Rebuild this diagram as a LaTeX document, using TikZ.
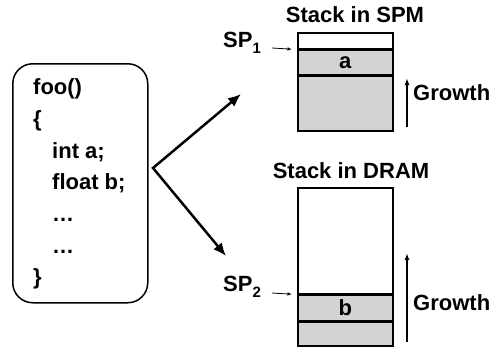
\documentclass[tikz,border=0pt]{standalone}
\usepackage{fontspec}
\setmainfont{Liberation Sans}
\usetikzlibrary{arrows.meta,positioning}
\definecolor{stackgray}{RGB}{211,211,211}
\tikzset{
  label text/.style={font=\bfseries\fontsize{22}{26}\selectfont,inner sep=0pt,anchor=base west},
  cell/.style={draw,line width=1.5pt,minimum width=95pt,inner sep=0pt,
    font=\bfseries\fontsize{22}{26}\selectfont},
  big arrow/.style={line width=2.5pt,miter limit=20,{Latex[length=13pt,width=11pt]}-{Latex[length=13pt,width=11pt]}},
  grow arrow/.style={line width=1.8pt,-{Latex[length=7pt,width=5pt]}},
  sp arrow/.style={line width=0.8pt,shorten >=5pt,-{Latex[length=4.5pt,width=3.5pt]}}
}
\newcommand{\spsub}[1]{SP\raisebox{-6pt}{\fontsize{15}{15}\selectfont #1}}
\begin{document}
\begin{tikzpicture}[x=1pt,y=-1pt]
  \useasboundingbox (0,0) rectangle (494,346);

  % code of the function
  \node[draw,line width=1.5pt,rounded corners=20pt,minimum width=135pt,
    minimum height=239pt,anchor=north west] (code) at (12,63) {};
  \node[label text] (lfoo) at (33,94) {foo()};
  \node[label text] (lopen) at (33,126) {\{};
  \node[label text] (linta) at (52,158) {int a;};
  \node[label text] (lfloatb) at (52,189) {float b;};
  \node[label text] (ldotsa) at (52,221) {…};
  \node[label text] (ldotsb) at (52,253) {…};
  \node[label text] (lclose) at (33,284) {\}};

  \coordinate (fork) at (153,168);
  \coordinate (spmtip) at (241,94);
  \coordinate (dramtip) at (226,256);
  \draw[big arrow] (spmtip) -- (fork) -- (dramtip);

  % stack in SPM
  \node[label text,anchor=base] (spmtitle) at (355,22) {Stack in SPM};
  \node[cell,fill=white,minimum height=16pt,anchor=north west] (spmfree) at (297,32) {};
  \node[cell,fill=stackgray,minimum height=24pt,below=0pt of spmfree] (spma) {a};
  \node[cell,fill=stackgray,minimum height=55pt,below=0pt of spma] (spmrest) {};
  \node[label text] (sp1) at (223,47) {\spsub{1}};
  \coordinate (sp1tail) at (272,48);
  \draw[sp arrow] (sp1tail) -- (spma.north west);
  \coordinate (spmgrowbot) at (407,127);
  \coordinate (spmgrowtop) at (407,78);
  \draw[grow arrow] (spmgrowbot) -- (spmgrowtop);
  \node[label text] (spmgrow) at (413,100) {Growth};

  % stack in DRAM
  \node[label text,anchor=base] (dramtitle) at (351,178) {Stack in DRAM};
  \node[cell,fill=white,minimum height=106pt,anchor=north west] (dramfree) at (297,187) {};
  \node[cell,fill=stackgray,minimum height=25pt,below=0pt of dramfree] (dramb) {b};
  \node[cell,fill=stackgray,minimum height=24pt,below=0pt of dramb] (dramrest) {};
  \node[label text] (sp2) at (223,291) {\spsub{2}};
  \coordinate (sp2tail) at (272,293);
  \draw[sp arrow] (sp2tail) -- (dramb.north west);
  \coordinate (dramgrowbot) at (407,342);
  \coordinate (dramgrowtop) at (407,253);
  \draw[grow arrow] (dramgrowbot) -- (dramgrowtop);
  \node[label text] (dramgrow) at (413,310) {Growth};
\end{tikzpicture}
\end{document}
